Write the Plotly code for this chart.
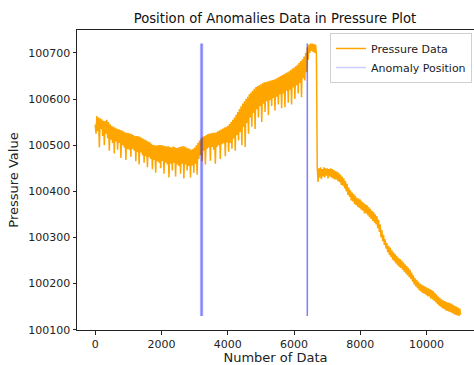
import plotly.graph_objects as go

# Pressure in 50-sample bins: upper and lower edge of the noisy band
bin_size = 50
pressure_high = [
    # 0 .. 3200
    100545, 100563, 100560, 100558, 100556, 100553, 100552, 100555, 100550, 100545,
    100542, 100540, 100538, 100536, 100535, 100533, 100532, 100530, 100528, 100527,
    100526, 100525, 100524, 100522, 100520, 100520, 100519, 100518, 100516, 100514,
    100512, 100510, 100508, 100506, 100503, 100500, 100500, 100499, 100500, 100500,
    100500, 100499, 100498, 100497, 100498, 100496, 100495, 100497, 100496, 100494,
    100495, 100496, 100497, 100498, 100497, 100495, 100493, 100492, 100490, 100492,
    100495, 100500, 100505, 100510, 100515,
    # 3250 .. 4000
    100518, 100520, 100522, 100524, 100525, 100526, 100527, 100527, 100528, 100530,
    100532, 100534, 100536, 100538, 100540, 100542,
    # 4050 .. 6650
    100546, 100550, 100555, 100560, 100566, 100572, 100578, 100584, 100590, 100595,
    100600, 100605, 100610, 100614, 100618, 100622, 100626, 100628, 100630, 100632,
    100634, 100636, 100637, 100638, 100639, 100640, 100641, 100642, 100644, 100646,
    100648, 100650, 100652, 100654, 100656, 100658, 100660, 100663, 100666, 100668,
    100671, 100674, 100678, 100682, 100686, 100692, 100700, 100712, 100718, 100720,
    100720, 100719, 100718,
    # 6700 .. 11000
    100452, 100450, 100452, 100448, 100452, 100450, 100450, 100448, 100450, 100448,
    100446, 100444, 100442, 100440, 100436, 100432, 100428, 100422, 100416, 100408,
    100402, 100398, 100394, 100390, 100386, 100384, 100382, 100378, 100375, 100372,
    100370, 100366, 100362, 100358, 100355, 100350, 100346, 100338, 100328, 100316,
    100306, 100296, 100288, 100282, 100278, 100272, 100268, 100264, 100260, 100256,
    100253, 100250, 100246, 100242, 100238, 100234, 100230, 100224, 100218, 100212,
    100208, 100204, 100200, 100198, 100196, 100194, 100192, 100190, 100188, 100186,
    100184, 100180, 100176, 100172, 100169, 100166, 100164, 100162, 100160, 100159,
    100158, 100156, 100154, 100152, 100150, 100148, 100146,
]
pressure_low = [
    # 0 .. 3200
    100525, 100530, 100495, 100535, 100520, 100500, 100525, 100515, 100488, 100512,
    100505, 100482, 100508, 100490, 100505, 100472, 100500, 100495, 100468, 100492,
    100490, 100475, 100492, 100488, 100465, 100485, 100458, 100484, 100478, 100462,
    100476, 100452, 100474, 100470, 100448, 100468, 100440, 100465, 100462, 100450,
    100466, 100438, 100462, 100458, 100430, 100460, 100445, 100462, 100432, 100458,
    100455, 100438, 100460, 100428, 100458, 100445, 100455, 100430, 100456, 100440,
    100460, 100436, 100470, 100478, 100465,
    # 3250 .. 4000
    100488, 100458, 100492, 100495, 100466, 100496, 100490, 100460, 100496, 100500,
    100470, 100502, 100504, 100476, 100506, 100486,
    # 4050 .. 6650
    100505, 100492, 100515, 100488, 100522, 100510, 100528, 100500, 100540, 100496,
    100548, 100525, 100560, 100540, 100570, 100535, 100578, 100560, 100585, 100550,
    100590, 100572, 100595, 100565, 100598, 100585, 100602, 100575, 100605, 100588,
    100610, 100580, 100612, 100582, 100618, 100592, 100620, 100588, 100625, 100600,
    100630, 100612, 100635, 100604, 100645, 100640, 100658, 100685, 100700, 100704,
    100702, 100700, 100696,
    # 6700 .. 11000
    100420, 100430, 100426, 100432, 100430, 100434, 100428, 100432, 100430, 100428,
    100426, 100426, 100422, 100420, 100414, 100412, 100406, 100400, 100392, 100388,
    100380, 100378, 100372, 100370, 100366, 100364, 100360, 100358, 100352, 100352,
    100348, 100344, 100340, 100336, 100332, 100328, 100320, 100312, 100300, 100292,
    100284, 100276, 100268, 100262, 100258, 100252, 100248, 100244, 100240, 100236,
    100234, 100230, 100226, 100222, 100218, 100214, 100210, 100204, 100198, 100194,
    100190, 100186, 100183, 100180, 100178, 100176, 100173, 100172, 100168, 100166,
    100163, 100160, 100156, 100152, 100150, 100147, 100145, 100142, 100141, 100139,
    100138, 100136, 100134, 100132, 100131, 100130, 100133,
]

anomaly_positions = [3180, 3195, 3210, 3225, 3240, 6398, 6400, 6402]

x_ticks = [0, 2000, 4000, 6000, 8000, 10000]
y_ticks = [100100, 100200, 100300, 100400, 100500, 100600, 100700]

# interleave the two edges so the line zig-zags through the band
index, pressure = [], []
for i, (hi, lo) in enumerate(zip(pressure_high, pressure_low)):
    index += [i * bin_size, i * bin_size + bin_size // 2]
    pressure += [hi, lo]

font = "DejaVu Sans"
fig = go.Figure()
fig.add_trace(go.Scatter(x=index, y=pressure, mode="lines", name="Pressure Data",
                         line=dict(color="orange", width=1.5)))
ymin, ymax = min(pressure), max(pressure)
for i, a in enumerate(anomaly_positions):
    fig.add_trace(go.Scatter(x=[a, a], y=[ymin, ymax], mode="lines",
                             name="Anomaly Position", showlegend=(i == 0),
                             line=dict(color="rgba(0,0,255,0.2)", width=1.5)))

fig.update_layout(
    width=474, height=365,
    margin=dict(l=77, r=0, t=30, b=35),
    paper_bgcolor="white", plot_bgcolor="white",
    font=dict(family=font, size=11, color="#222"),
    title=dict(text="Position of Anomalies Data in Pressure Plot",
               x=(77 + 473) / 2 / 474, xanchor="center", y=1 - 18 / 365, yanchor="middle",
               font=dict(size=13.2, color="#111")),
    showlegend=True,
    legend=dict(x=0.995, y=0.99, xanchor="right", yanchor="top",
                bordercolor="#d0d0d0", borderwidth=1, bgcolor="rgba(255,255,255,0.8)",
                font=dict(size=11, color="#222"), tracegroupgap=0, itemwidth=30),
)
fig.update_xaxes(range=[-550, 11430], tickvals=x_ticks, ticktext=[str(t) for t in x_ticks],
                 ticks="outside", ticklen=3.5,
                 tickcolor="#222", showgrid=False, zeroline=False, showline=True,
                 linecolor="#222", linewidth=1, mirror=True,
                 title=dict(text="Number of Data", standoff=6))
fig.update_yaxes(range=[100099.5, 100749.5], tickvals=y_ticks,
                 ticktext=[str(t) for t in y_ticks], ticks="outside", ticklen=3.5,
                 tickcolor="#222", showgrid=False, zeroline=False, showline=True,
                 linecolor="#222", linewidth=1,
                 title=dict(text="Pressure Value", standoff=6))
fig.write_html("out.html")
